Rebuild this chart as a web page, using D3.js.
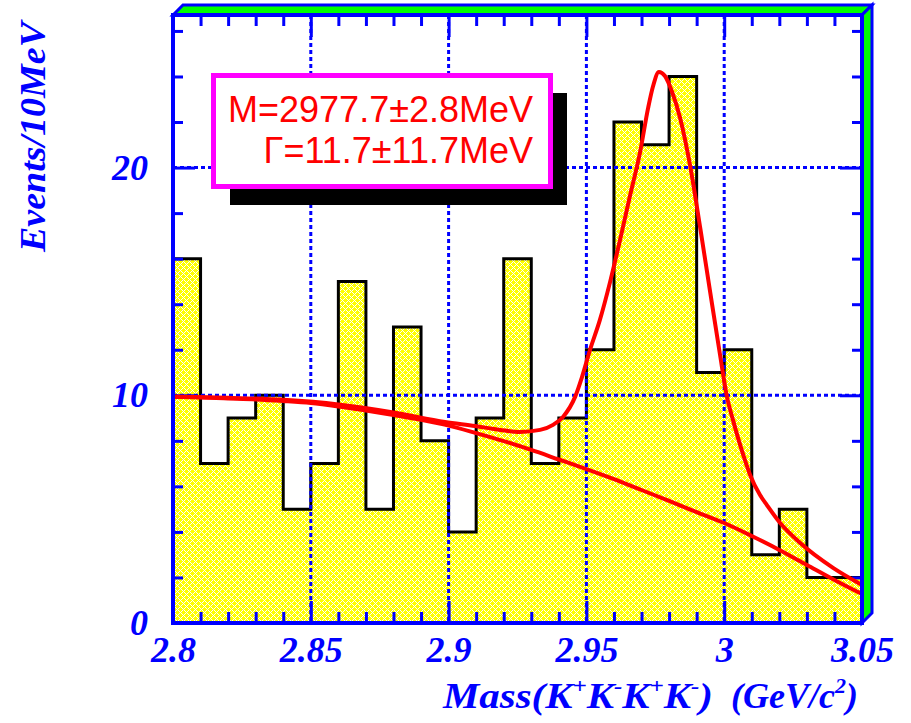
<!DOCTYPE html>
<html>
<head>
<meta charset="utf-8">
<script src="https://cdn.jsdelivr.net/npm/d3@7"></script>
<style>
  html, body { margin: 0; padding: 0; background: #ffffff; }
  svg { display: block; }
</style>
</head>
<body>
<svg id="chart" width="911" height="723"></svg>
<script>
// K+K-K+K- invariant mass spectrum, 10 MeV bins from 2.80 to 3.05 GeV
const binLowEdges = [2.80, 2.81, 2.82, 2.83, 2.84, 2.85, 2.86, 2.87, 2.88, 2.89,
                     2.90, 2.91, 2.92, 2.93, 2.94, 2.95, 2.96, 2.97, 2.98, 2.99,
                     3.00, 3.01, 3.02, 3.03, 3.04];
const binCounts = [16, 7, 9, 10, 5, 7, 15, 5, 13, 8,
                   4, 9, 16, 7, 9, 12, 22, 21, 24, 11,
                   12, 3, 5, 2, 2];
const binWidth = 0.01;

// Fitted background shape
const bkgMass = [2.80, 2.81, 2.82, 2.83, 2.84, 2.85, 2.86, 2.87, 2.88, 2.89,
                 2.90, 2.91, 2.92, 2.93, 2.94, 2.95, 2.96, 2.97, 2.98, 2.99,
                 3.00, 3.01, 3.02, 3.03, 3.04, 3.05];
const bkgValues = [9.93, 9.90, 9.86, 9.82, 9.75, 9.66, 9.51, 9.33, 9.13, 8.92,
                   8.67, 8.34, 7.99, 7.60, 7.18, 6.76, 6.32, 5.84, 5.36, 4.87,
                   4.39, 3.82, 3.21, 2.55, 1.89, 1.27];

// Total fit (signal + background)
const fitMass = [2.800, 2.820, 2.840, 2.860, 2.880, 2.8987, 2.9096, 2.9187, 2.9259, 2.9332,
                 2.9379, 2.9415, 2.9459, 2.9484, 2.9513, 2.9549, 2.9586, 2.9622, 2.9658, 2.9695,
                 2.9724, 2.9742, 2.9763, 2.9785, 2.9811, 2.9840, 2.9876, 2.9913, 2.9949, 2.9985,
                 3.0010, 3.0032, 3.0075, 3.0094, 3.0130, 3.0155, 3.0203, 3.0276, 3.0395, 3.0500];
const fitValues = [9.95, 9.89, 9.80, 9.60, 9.25, 8.83, 8.65, 8.48, 8.39, 8.48,
                   8.70, 9.05, 9.93, 10.80, 11.99, 13.31, 14.98, 16.82, 18.75, 20.69,
                   22.62, 23.58, 24.20, 24.02, 23.32, 22.18, 20.11, 17.35, 14.54, 11.77,
                   9.93, 8.91, 7.16, 6.50, 5.62, 5.18, 4.39, 3.51, 2.42, 1.67];

const xMajorTicks = [2.80, 2.85, 2.90, 2.95, 3.00, 3.05];
const xTickLabels = ["2.8", "2.85", "2.9", "2.95", "3", "3.05"];
const xMinorTicks = [2.81, 2.82, 2.83, 2.84, 2.86, 2.87, 2.88, 2.89, 2.91, 2.92, 2.93, 2.94,
                     2.96, 2.97, 2.98, 2.99, 3.01, 3.02, 3.03, 3.04];
const yMajorTicks = [0, 10, 20];
const yTickLabels = ["0", "10", "20"];
const yMinorTicks = [2, 4, 6, 8, 12, 14, 16, 18, 22, 24, 26];

const fitResultLines = ["M=2977.7\u00b12.8MeV", "\u0393=11.7\u00b111.7MeV"];

const BLUE = "#0000ff";
const GREEN = "#00ff00";
const RED = "#ff0000";
const MAGENTA = "#ff00ff";
const YELLOW = "#ffff00";

const plot = { left: 173, right: 862, top: 15, bottom: 623 };
const depth = 10;

const svg = d3.select("#chart");

const x = d3.scaleLinear().domain([2.80, 3.05]).range([plot.left, plot.right]);
const y = d3.scaleLinear().domain([0, 26.7]).range([plot.bottom, plot.top]);

// Cross-hatched yellow fill (6px tile, white diagonals both ways)
const defs = svg.append("defs");
const tile = 6;
const pat = defs.append("pattern")
  .attr("id", "hatch")
  .attr("patternUnits", "userSpaceOnUse")
  .attr("width", tile).attr("height", tile);
pat.append("rect").attr("width", tile).attr("height", tile).attr("fill", YELLOW)
  .attr("shape-rendering", "crispEdges");
d3.range(tile).forEach(i => {
  [[i, i], [i, (tile - i) % tile]].forEach(([px, py]) => {
    pat.append("rect").attr("x", px).attr("y", py).attr("width", 1).attr("height", 1)
      .attr("fill", "#ffffff").attr("shape-rendering", "crispEdges");
  });
});

// Histogram
const stepPts = binLowEdges.map((e, i) => [e, binCounts[i]]);
stepPts.push([binLowEdges[binLowEdges.length - 1] + binWidth, binCounts[binCounts.length - 1]]);

svg.append("path")
  .datum(stepPts)
  .attr("fill", "url(#hatch)")
  .attr("shape-rendering", "crispEdges")
  .attr("d", d3.area().curve(d3.curveStepAfter)
    .x(d => x(d[0])).y0(y(0)).y1(d => y(d[1])));

svg.append("path")
  .datum(stepPts)
  .attr("fill", "none")
  .attr("stroke", "#000000")
  .attr("stroke-width", 3)
  .attr("d", d3.line().curve(d3.curveStepAfter).x(d => x(d[0])).y(d => y(d[1])));

// Dotted grid at major ticks
const grid = svg.append("g").attr("stroke", BLUE).attr("stroke-width", 3)
  .attr("stroke-dasharray", "4,3");
xMajorTicks.slice(1, -1).forEach(v => {
  grid.append("line").attr("x1", x(v)).attr("x2", x(v))
    .attr("y1", plot.top).attr("y2", plot.bottom);
});
yMajorTicks.slice(1).forEach(v => {
  grid.append("line").attr("x1", plot.left).attr("x2", plot.right)
    .attr("y1", y(v)).attr("y2", y(v));
});

// Axes (inward ticks on all four sides)
function styleAxis(g) {
  g.select(".domain").remove();
  g.selectAll(".tick line").attr("stroke", BLUE).attr("stroke-width", 3);
}
const labelFont = "'Liberation Serif', 'Times New Roman', serif";

svg.append("g").attr("transform", `translate(0,${plot.bottom})`)
  .call(d3.axisBottom(x).tickValues(xMinorTicks).tickSize(-11).tickFormat(""))
  .call(styleAxis);
const xAx = svg.append("g").attr("transform", `translate(0,${plot.bottom})`)
  .call(d3.axisBottom(x).tickValues(xMajorTicks).tickSize(-22).tickPadding(13)
    .tickFormat((d, i) => xTickLabels[i]))
  .call(styleAxis);
xAx.selectAll("text")
  .attr("fill", BLUE)
  .style("font-family", labelFont)
  .style("font-weight", "bold")
  .style("font-style", "italic")
  .style("font-size", "36px");

svg.append("g").attr("transform", `translate(0,${plot.top})`)
  .call(d3.axisTop(x).tickValues(xMinorTicks).tickSize(-11).tickFormat(""))
  .call(styleAxis);
svg.append("g").attr("transform", `translate(0,${plot.top})`)
  .call(d3.axisTop(x).tickValues(xMajorTicks).tickSize(-22).tickFormat(""))
  .call(styleAxis);

svg.append("g").attr("transform", `translate(${plot.left},0)`)
  .call(d3.axisLeft(y).tickValues(yMinorTicks).tickSize(-10).tickFormat(""))
  .call(styleAxis);
const yAx = svg.append("g").attr("transform", `translate(${plot.left},0)`)
  .call(d3.axisLeft(y).tickValues(yMajorTicks).tickSize(-22).tickPadding(25)
    .tickFormat((d, i) => yTickLabels[i]))
  .call(styleAxis);
yAx.selectAll("text")
  .attr("fill", BLUE)
  .style("font-family", labelFont)
  .style("font-weight", "bold")
  .style("font-style", "italic")
  .style("font-size", "36px");

svg.append("g").attr("transform", `translate(${plot.right},0)`)
  .call(d3.axisRight(y).tickValues(yMinorTicks).tickSize(-10).tickFormat(""))
  .call(styleAxis);
svg.append("g").attr("transform", `translate(${plot.right},0)`)
  .call(d3.axisRight(y).tickValues(yMajorTicks).tickSize(-22).tickFormat(""))
  .call(styleAxis);

// Fit curves
const fitLine = d3.line().curve(d3.curveMonotoneX).x(d => x(d[0])).y(d => y(d[1]));
svg.append("path")
  .datum(bkgMass.map((m, i) => [m, bkgValues[i]]))
  .attr("fill", "none").attr("stroke", RED).attr("stroke-width", 4)
  .attr("d", fitLine);
svg.append("path")
  .datum(fitMass.map((m, i) => [m, fitValues[i]]))
  .attr("fill", "none").attr("stroke", RED).attr("stroke-width", 4)
  .attr("d", fitLine);

// Box frame with raised top and right faces
const frame = svg.append("g").attr("stroke", BLUE).attr("stroke-width", 3)
  .attr("stroke-linejoin", "miter");
frame.append("polygon")
  .attr("fill", GREEN)
  .attr("points", [[plot.left, plot.top], [plot.left + depth, plot.top - depth],
    [plot.right + depth, plot.top - depth], [plot.right, plot.top]].join(" "));
frame.append("polygon")
  .attr("fill", GREEN)
  .attr("points", [[plot.right, plot.top], [plot.right + depth, plot.top - depth],
    [plot.right + depth, plot.bottom - depth], [plot.right, plot.bottom]].join(" "));
frame.append("rect")
  .attr("x", plot.left).attr("y", plot.top)
  .attr("width", plot.right - plot.left).attr("height", plot.bottom - plot.top)
  .attr("fill", "none").attr("stroke-width", 4);

// Fit result box with drop shadow
svg.append("rect").attr("x", 230).attr("y", 93).attr("width", 337).attr("height", 112)
  .attr("fill", "#000000");
svg.append("rect").attr("x", 213.5).attr("y", 75.5).attr("width", 337).attr("height", 111)
  .attr("fill", "#ffffff").attr("stroke", MAGENTA).attr("stroke-width", 5);
svg.append("g").selectAll("text").data(fitResultLines).join("text")
  .attr("x", 533)
  .attr("y", (d, i) => 122 + i * 41)
  .attr("text-anchor", "end")
  .attr("fill", RED)
  .style("font-family", "'Liberation Sans', Arial, sans-serif")
  .style("font-size", "36px")
  .text(d => d);

// Axis titles
svg.append("text")
  .attr("transform", "translate(45,22) rotate(-90)")
  .attr("text-anchor", "end")
  .attr("textLength", 230)
  .attr("lengthAdjust", "spacingAndGlyphs")
  .attr("fill", BLUE)
  .style("font-family", labelFont)
  .style("font-weight", "bold")
  .style("font-style", "italic")
  .style("font-size", "36px")
  .text("Events/10MeV");

function titleText(xPos, anchor, parts, length) {
  const t = svg.append("text")
    .attr("x", xPos).attr("y", 708)
    .attr("text-anchor", anchor)
    .attr("fill", BLUE)
    .style("font-family", labelFont)
    .style("font-weight", "bold")
    .style("font-style", "italic")
    .style("font-size", "36px");
  if (length) t.attr("textLength", length).attr("lengthAdjust", "spacingAndGlyphs");
  let raised = false;
  parts.forEach(([s, sup]) => {
    const ts = t.append("tspan").text(s);
    if (sup) {
      ts.attr("dy", raised ? 0 : -15).style("font-size", "22px");
      raised = true;
    } else {
      if (raised) ts.attr("dy", 15);
      raised = false;
    }
  });
  return t;
}
titleText(443, "start",
  [["Mass(K", 0], ["+", 1], ["K", 0], ["-", 1], ["K", 0], ["+", 1], ["K", 0], ["-", 1], [")", 0]],
  270);
titleText(858, "end", [["(GeV/c", 0], ["2", 1], [")", 0]], null);
</script>
</body>
</html>
